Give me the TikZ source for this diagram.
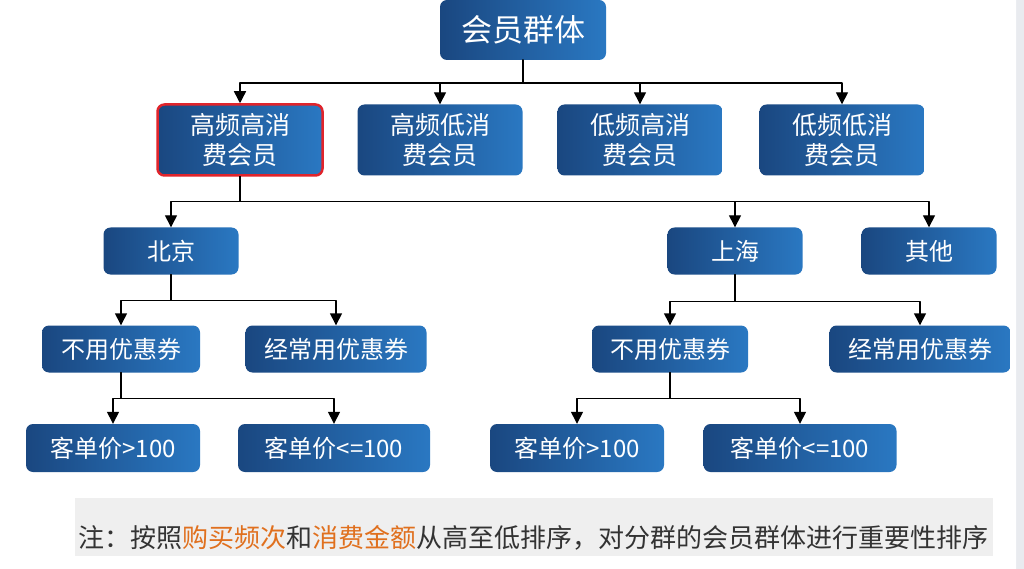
\documentclass[tikz,border=0pt]{standalone}
\usepackage{fontspec}
\newfontfamily\cjk{Noto Sans CJK SC}
\usetikzlibrary{positioning}
\usetikzlibrary{arrows.meta}
\definecolor{boxdark}{HTML}{1A4780}
\definecolor{boxlight}{HTML}{2A78C2}
\definecolor{notegray}{HTML}{EFEFEF}
\definecolor{noteorange}{HTML}{E0701E}
\definecolor{pagegray}{HTML}{E9EBEF}
\definecolor{notetext}{HTML}{333333}
\definecolor{markred}{HTML}{E0242B}

\begin{document}
\begin{tikzpicture}[line cap=round,line join=round,x=1pt,y=-1pt,
  box/.style={rounded corners=7pt,left color=boxdark,right color=boxlight,text=white,inner sep=0pt,align=center,minimum height=47pt,font=\cjk\fontsize{24}{28}\selectfont},
  headbox/.style={box,minimum height=60pt,font=\cjk\fontsize{31}{34}\selectfont},
  groupbox/.style={box,minimum width=165pt,minimum height=71pt,font=\cjk\fontsize{25}{30}\selectfont},
  pick/.style={draw=markred,line width=2.5pt},
  arr/.style={-{Triangle[length=12pt,width=12pt]},line width=1.4pt,color=black}]
\useasboundingbox (0,0) rectangle (1024,569);
\fill[pagegray] (0,0) rectangle (1024,569);
\fill[white][rounded corners=22pt] (-30,-30) rectangle (1016,600);
% levels
\node[headbox,minimum width=166pt] (grp) at (523,30) {会员群体};
\node[groupbox,pick] (hh) at (240,140) {高频高消\\费会员};
\node[groupbox] (hl) at (440,140) {高频低消\\费会员};
\node[groupbox] (lh) at (640,140) {低频高消\\费会员};
\node[groupbox] (ll) at (842,140) {低频低消\\费会员};
\node[box,minimum width=135pt] (bj) at (171,251) {北京};
\node[box,minimum width=135pt] (sh) at (735,251) {上海};
\node[box,minimum width=135pt] (qt) at (929,251) {其他};
\node[box,minimum width=158pt] (bjno) at (121,349) {不用优惠券};
\node[box,minimum width=181pt] (bjoft) at (336,349) {经常用优惠券};
\node[box,minimum width=156pt] (shno) at (670,349) {不用优惠券};
\node[box,minimum width=181pt] (shoft) at (920,349) {经常用优惠券};
\node[box,minimum width=174pt,minimum height=48pt] (bjhi) at (113,448) {客单价>100};
\node[box,minimum width=192pt,minimum height=48pt] (bjlo) at (334,448) {客单价<=100};
\node[box,minimum width=174pt,minimum height=48pt] (shhi) at (577,448) {客单价>100};
\node[box,minimum width=193pt,minimum height=48pt] (shlo) at (800,448) {客单价<=100};
% connectors
\foreach \kid in {hh,hl,lh,ll} \draw[arr] (grp.south) -- ++(0,23) -| (\kid.north);
\foreach \kid in {bj,sh,qt} \draw[arr] (hh.south) -- ++(0,25) -| (\kid.north);
\foreach \kid in {bjno,bjoft} \draw[arr] (bj.south) -- ++(0,26) -| (\kid.north);
\foreach \kid in {shno,shoft} \draw[arr] (sh.south) -- ++(0,27) -| (\kid.north);
\foreach \kid in {bjhi,bjlo} \draw[arr] (bjno.south) -- ++(0,26) -| (\kid.north);
\foreach \kid in {shhi,shlo} \draw[arr] (shno.south) -- ++(0,26) -| (\kid.north);
% note
\fill[notegray] (75,498) rectangle (993,556);
\node[anchor=west,inner sep=0pt,text=notetext,font=\cjk\fontsize{26}{30}\selectfont] (note) at (78,538) {注：按照\textcolor{noteorange}{购买频次}和\textcolor{noteorange}{消费金额}从高至低排序，对分群的会员群体进行重要性排序};
\end{tikzpicture}
\end{document}
